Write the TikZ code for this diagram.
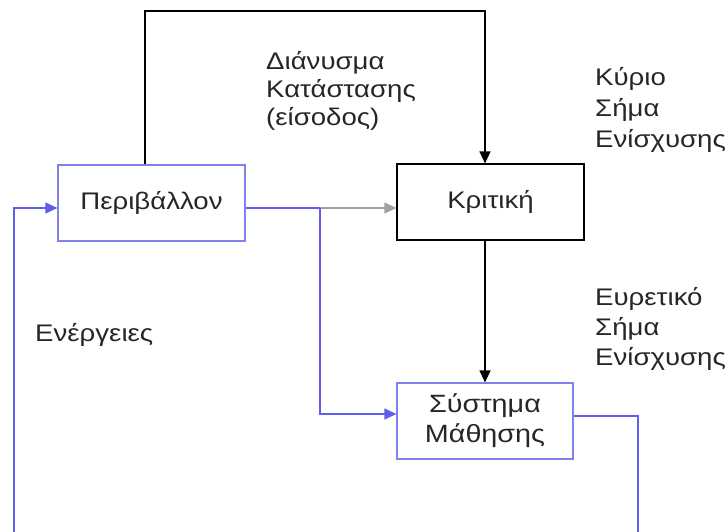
\documentclass[tikz,border=0pt]{standalone}
\usepackage{fontspec}
\setmainfont{Liberation Sans}[FakeStretch=1.15]
\usetikzlibrary{arrows.meta}
\definecolor{bluebox}{RGB}{128,128,238}
\definecolor{blueline}{RGB}{95,95,235}
\definecolor{grayline}{RGB}{120,120,120}
\begin{document}
\begin{tikzpicture}[x=1pt,y=-1pt,
  every node/.style={font=\fontsize{24}{30}\selectfont, text=black!85},
  box/.style={draw, line width=1.2pt, minimum width=187pt, minimum height=76pt, inner sep=0pt, align=center},
  lbl/.style={align=left, anchor=base west, inner sep=0pt},
  tip/.style={-{Triangle[length=12pt,width=11pt]}},
  bl/.style={draw=blueline, line width=1.2pt},
  gl/.style={draw=grayline, line width=1.5pt}]
  \useasboundingbox (0,0) rectangle (728,532);
  % boxes
  \node[box, draw=bluebox] (env) at (151.5,203) {Περιβάλλον};
  \node[box, draw=black] (crit) at (490.5,202) {Κριτική};
  \node[box, draw=bluebox, minimum width=176pt, font=\fontsize{25}{30}\selectfont] (learn) at (485,421) {Σύστημα\\Μάθησης};
  % helper points
  \coordinate (top1) at (145,11);
  \coordinate (top2) at (485,11);
  \coordinate (split) at (320,208);
  \coordinate (learnin) at (320,414);
  \coordinate (learnout) at (638,416);
  \coordinate (botL) at (14,532);
  \coordinate (botR) at (638,532);
  % state vector loop to critic
  \draw[gl, tip, black] (env.north -| top1) -- (top1) -- (top2) -- (crit.north -| top2);
  % environment to critic and learning system
  \draw[bl] (env.east |- split) -- (split);
  \draw[draw=grayline!70, line width=1.2pt, -{Triangle[length=12pt,width=11pt]}, color=grayline!70] (split) -- (crit.west |- split);
  \draw[bl, tip, blueline] (split) -- (learnin) -- (learn.west |- learnin);
  % critic to learning system
  \draw[line width=1.2pt, tip] (crit.south -| top2) -- (learn.north -| top2);
  % actions back to environment
  \draw[bl] (learn.east |- learnout) -- (learnout) -- (botR);
  \draw[bl, tip, blueline] (botL) -- (botL |- split) -- (env.west |- split);
  % labels (anchored at the baseline of their last line)
  \node[lbl] (sv) at (266,126) {Διάνυσμα\\[-2pt]Κατάστασης\\[-2pt](είσοδος)};
  \node[lbl] (main) at (595,147) {Κύριο\\[1pt]Σήμα\\[1pt]Ενίσχυσης};
  \node[lbl] (heur) at (595,365) {Ευρετικό\\Σήμα\\Ενίσχυσης};
  \node[lbl] (act) at (35,341) {Ενέργειες};
\end{tikzpicture}
\end{document}
